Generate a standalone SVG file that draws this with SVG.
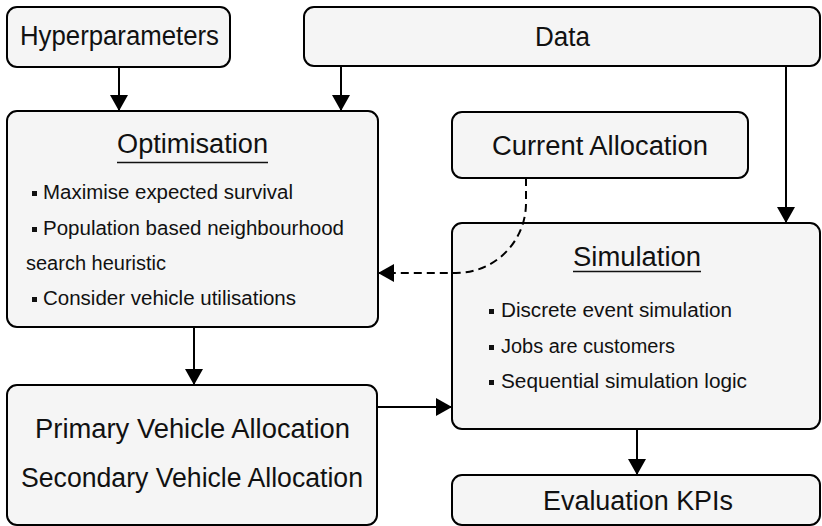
<svg xmlns="http://www.w3.org/2000/svg" width="822" height="526" viewBox="0 0 822 526">
  <style>
    .box { fill: #f5f5f5; stroke: #000; stroke-width: 2; }
    .label { font-family: "Liberation Sans", Arial, sans-serif; font-size: 27px; fill: #111; text-anchor: middle; }
    .item { font-family: "Liberation Sans", Arial, sans-serif; font-size: 20px; fill: #111; }
    .bullet { fill: #111; }
    .rule { stroke: #111; stroke-width: 1.3; }
    .edge { fill: none; stroke: #000; stroke-width: 2; }
    .dashed { stroke-dasharray: 8 5; }
  </style>
  <defs>
    <marker id="arrow" markerUnits="userSpaceOnUse" markerWidth="18" markerHeight="18" refX="16" refY="9" orient="auto">
      <path d="M0,0 L16,9 L0,18 Z" fill="#000"/>
    </marker>
  </defs>

  <g id="hyperparameters">
    <rect class="box" x="7" y="7" width="223" height="60" rx="10"/>
    <text class="label" x="119.5" y="45" textLength="199" lengthAdjust="spacingAndGlyphs">Hyperparameters</text>
  </g>

  <g id="data">
    <rect class="box" x="304" y="7" width="516" height="59" rx="10"/>
    <text class="label" x="562.5" y="46" textLength="55" lengthAdjust="spacingAndGlyphs">Data</text>
  </g>

  <g id="optimisation">
    <rect class="box" x="7" y="111" width="371" height="216" rx="10"/>
    <text class="label" x="192.5" y="153" textLength="151" lengthAdjust="spacingAndGlyphs">Optimisation</text>
    <line class="rule" x1="117" y1="162.5" x2="268" y2="162.5"/>
    <rect class="bullet" x="32" y="191" width="5" height="5"/>
    <text class="item" x="43" y="199" textLength="250" lengthAdjust="spacingAndGlyphs">Maximise expected survival</text>
    <rect class="bullet" x="32" y="227" width="5" height="5"/>
    <text class="item" x="43" y="235" textLength="301" lengthAdjust="spacingAndGlyphs">Population based neighbourhood</text>
    <text class="item" x="26" y="270" textLength="140" lengthAdjust="spacingAndGlyphs">search heuristic</text>
    <rect class="bullet" x="32" y="297" width="5" height="5"/>
    <text class="item" x="43" y="305" textLength="253" lengthAdjust="spacingAndGlyphs">Consider vehicle utilisations</text>
  </g>

  <g id="current-allocation">
    <rect class="box" x="452" y="112" width="296" height="66" rx="10"/>
    <text class="label" x="600" y="155" textLength="216" lengthAdjust="spacingAndGlyphs">Current Allocation</text>
  </g>

  <g id="simulation">
    <rect class="box" x="452" y="223" width="368" height="206" rx="10"/>
    <text class="label" x="637" y="265.5" textLength="128" lengthAdjust="spacingAndGlyphs">Simulation</text>
    <line class="rule" x1="573" y1="271.5" x2="701" y2="271.5"/>
    <rect class="bullet" x="489" y="309" width="5" height="5"/>
    <text class="item" x="501" y="317" textLength="231" lengthAdjust="spacingAndGlyphs">Discrete event simulation</text>
    <rect class="bullet" x="489" y="345" width="5" height="5"/>
    <text class="item" x="501" y="353" textLength="174" lengthAdjust="spacingAndGlyphs">Jobs are customers</text>
    <rect class="bullet" x="489" y="380" width="5" height="5"/>
    <text class="item" x="501" y="388" textLength="246" lengthAdjust="spacingAndGlyphs">Sequential simulation logic</text>
  </g>

  <g id="vehicle-allocation">
    <rect class="box" x="7" y="385" width="370" height="140" rx="10"/>
    <text class="label" x="192.5" y="438" textLength="315" lengthAdjust="spacingAndGlyphs">Primary Vehicle Allocation</text>
    <text class="label" x="192" y="487" textLength="342" lengthAdjust="spacingAndGlyphs">Secondary Vehicle Allocation</text>
  </g>

  <g id="evaluation-kpis">
    <rect class="box" x="452" y="475" width="368" height="50" rx="10"/>
    <text class="label" x="638" y="510" textLength="190" lengthAdjust="spacingAndGlyphs">Evaluation KPIs</text>
  </g>

  <g id="connectors">
    <path class="edge" d="M119,67 L119,111" marker-end="url(#arrow)"/>
    <path class="edge" d="M341,66 L341,111" marker-end="url(#arrow)"/>
    <path class="edge" d="M786,66 L786,223" marker-end="url(#arrow)"/>
    <path class="edge" d="M194,327 L194,385" marker-end="url(#arrow)"/>
    <path class="edge" d="M377,407 L452,407" marker-end="url(#arrow)"/>
    <path class="edge" d="M637,429 L637,475" marker-end="url(#arrow)"/>
    <path class="edge dashed" d="M526,178 L526,203 A70,70 0 0 1 456,273 L378,273" marker-end="url(#arrow)"/>
  </g>
</svg>
